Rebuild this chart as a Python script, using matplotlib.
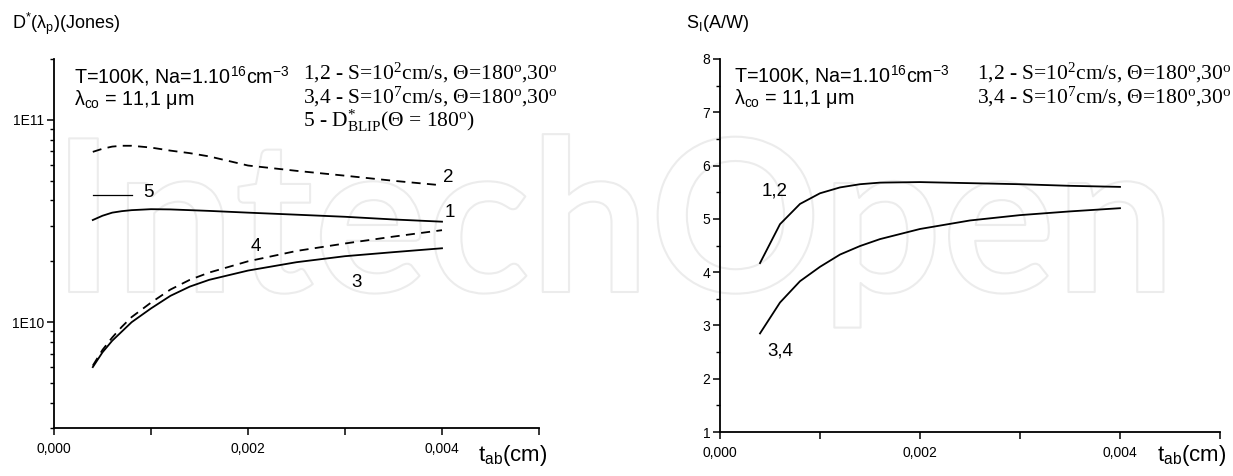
import numpy as np
import matplotlib
matplotlib.use("Agg")
import matplotlib.pyplot as plt
from matplotlib.ticker import FixedLocator, FuncFormatter, LogLocator, NullFormatter, MultipleLocator
import matplotlib.patheffects as pe

plt.rcParams['font.family'] = ['Liberation Sans', 'DejaVu Sans']
plt.rcParams['mathtext.default'] = 'regular'

# absorber thickness (cm)
t_ab = [0.0004, 0.0005, 0.0006, 0.0007, 0.0008, 0.0010, 0.0012, 0.0014,
        0.0016, 0.0020, 0.0025, 0.0030, 0.0035, 0.0040]

# detectivity D*(lambda_p), Jones
d_curve1 = [3.20e10, 3.36e10, 3.48e10, 3.54e10, 3.58e10, 3.62e10, 3.61e10, 3.58e10,
            3.55e10, 3.48e10, 3.40e10, 3.32e10, 3.22e10, 3.14e10]
d_curve2 = [6.95e10, 7.20e10, 7.38e10, 7.45e10, 7.45e10, 7.30e10, 7.05e10, 6.85e10,
            6.60e10, 5.95e10, 5.60e10, 5.30e10, 5.00e10, 4.75e10]
d_curve3 = [6.0e9, 7.1e9, 8.1e9, 9.0e9, 1.0e10, 1.17e10, 1.35e10, 1.50e10,
            1.62e10, 1.80e10, 1.98e10, 2.12e10, 2.22e10, 2.32e10]
d_curve4 = [6.1e9, 7.3e9, 8.4e9, 9.5e9, 1.06e10, 1.25e10, 1.45e10, 1.62e10,
            1.76e10, 2.00e10, 2.25e10, 2.45e10, 2.65e10, 2.85e10]
# short segment for curve 5 (D*_BLIP)
t_blip = [0.0004, 0.0008]
d_blip = [4.27e10, 4.27e10]

# current responsivity S_I, A/W
s_t = [0.0004, 0.0006, 0.0008, 0.0010, 0.0012, 0.0014, 0.0016, 0.0020,
       0.0025, 0.0030, 0.0035, 0.0040]
s_curve12 = [4.17, 4.90, 5.28, 5.48, 5.59, 5.65, 5.68, 5.69, 5.67, 5.65, 5.62, 5.60]
s_curve34 = [2.85, 3.43, 3.83, 4.10, 4.33, 4.49, 4.62, 4.81, 4.97, 5.07, 5.14, 5.20]

x_ticks = [0.000, 0.001, 0.002, 0.003, 0.004, 0.005]

W, H = 1233, 476
fig = plt.figure(figsize=(W / 100, H / 100), dpi=100)

def px_axes(x0, x1, ytop, ybot):
    return fig.add_axes([x0 / W, 1 - ybot / H, (x1 - x0) / W, (ybot - ytop) / H])

axL = px_axes(54, 539, 59, 428)
axR = px_axes(720, 1220, 59, 432)

# faint watermark behind everything
fig.text(52 / W, 1 - 292 / H, 'IntechOpen', fontsize=153, family='Lato', fontweight='bold',
         color='none', ha='left', va='baseline', zorder=-5,
         path_effects=[pe.withStroke(linewidth=1.5, foreground='#ececec')])

def comma_fmt(v, pos):
    if round(v * 1000) % 2:
        return ''
    return ('%.3f' % v).replace('.', ',')

for ax in (axL, axR):
    ax.patch.set_alpha(0)
    for s in ('top', 'right'):
        ax.spines[s].set_visible(False)
    for s in ('left', 'bottom'):
        ax.spines[s].set_linewidth(1.3)
    ax.set_xlim(0, 0.005)
    ax.xaxis.set_major_locator(FixedLocator(x_ticks))
    ax.xaxis.set_major_formatter(FuncFormatter(comma_fmt))
    ax.tick_params(which='major', direction='out', length=5, width=1.1, labelsize=10, pad=2)
    ax.tick_params(which='minor', direction='out', length=3, width=1.0)
    ax.tick_params(axis='x', pad=5)

sol = dict(color='black', lw=1.3)
dsh = dict(color='black', lw=1.3, dashes=(5, 3.5))

# left panel
axL.plot(t_ab, d_curve1, **sol)
axL.plot(t_ab, d_curve2, **dsh)
axL.plot(t_ab, d_curve3, **sol)
axL.plot(t_ab, d_curve4, **dsh)
axL.plot(t_blip, d_blip, color='black', lw=0.9)
axL.set_yscale('log')
axL.set_ylim(3e9, 2e11)
axL.yaxis.set_major_locator(FixedLocator([1e10, 1e11]))
axL.yaxis.set_major_formatter(FuncFormatter(lambda v, p: '1E%d' % round(np.log10(v))))
axL.yaxis.set_minor_locator(LogLocator(base=10, subs=np.arange(2, 10), numticks=10))
axL.yaxis.set_minor_formatter(NullFormatter())

lab = dict(fontsize=13.5, color='black', ha='center', va='center')
axL.text(0.00097, 4.4e10, '5', **lab)
axL.text(0.00406, 5.2e10, '2', **lab)
axL.text(0.00408, 3.5e10, '1', **lab)
axL.text(0.00208, 2.38e10, '4', **lab)
axL.text(0.00312, 1.58e10, '3', **lab)

sans = dict(fontsize=14.2, family=['Liberation Sans', 'DejaVu Sans'], va='center')
serif = dict(fontsize=15.5, family=['Liberation Serif', 'DejaVu Serif'], va='center', ha='left')

def info(ax, xs, ys1, ys2, xt, yt1, yt2, yt3=None):
    tr = ax.transAxes
    ax.text(xs, ys1, 'T=100K, Na=1.10$^{16}$cm$^{-3}$', transform=tr, **sans)
    ax.text(xs, ys2, 'λ$_{co}$ = 11,1 μm', transform=tr, **sans)
    ax.text(xt, yt1, '1,2 - S=10$^{2}$cm/s, Θ=180$^{o}$,30$^{o}$', transform=tr, **serif)
    ax.text(xt, yt2, '3,4 - S=10$^{7}$cm/s, Θ=180$^{o}$,30$^{o}$', transform=tr, **serif)
    if yt3 is not None:
        ax.text(xt, yt3, '5 - D$^{*}_{BLIP}$(Θ = 180$^{o}$)', transform=tr, **serif)

info(axL, 0.042, 0.954, 0.889, 0.513, 0.962, 0.897, 0.832)

# right panel
axR.plot(s_t, s_curve12, **sol)
axR.plot(s_t, s_curve34, **sol)
axR.set_ylim(1, 8)
axR.yaxis.set_major_locator(MultipleLocator(1))
axR.yaxis.set_minor_locator(MultipleLocator(0.5))
axR.text(0.00055, 5.52, '1,2', **lab)
axR.text(0.00060, 2.52, '3,4', **lab)
info(axR, 0.028, 0.957, 0.893, 0.514, 0.962, 0.898)

# axis titles
fig.text(12 / W, 1 - 24 / H, 'D$^{*}$(λ$_{p}$)(Jones)', va='center', fontsize=13)
fig.text(686 / W, 1 - 24 / H, 'S$_{I}$(A/W)', va='center', fontsize=13)
fig.text(478 / W, 1 - 455 / H, 't$_{ab}$(cm)', va='center', fontsize=16)
fig.text(1157 / W, 1 - 455 / H, 't$_{ab}$(cm)', va='center', fontsize=16)

fig.savefig('out.png', dpi=100)
